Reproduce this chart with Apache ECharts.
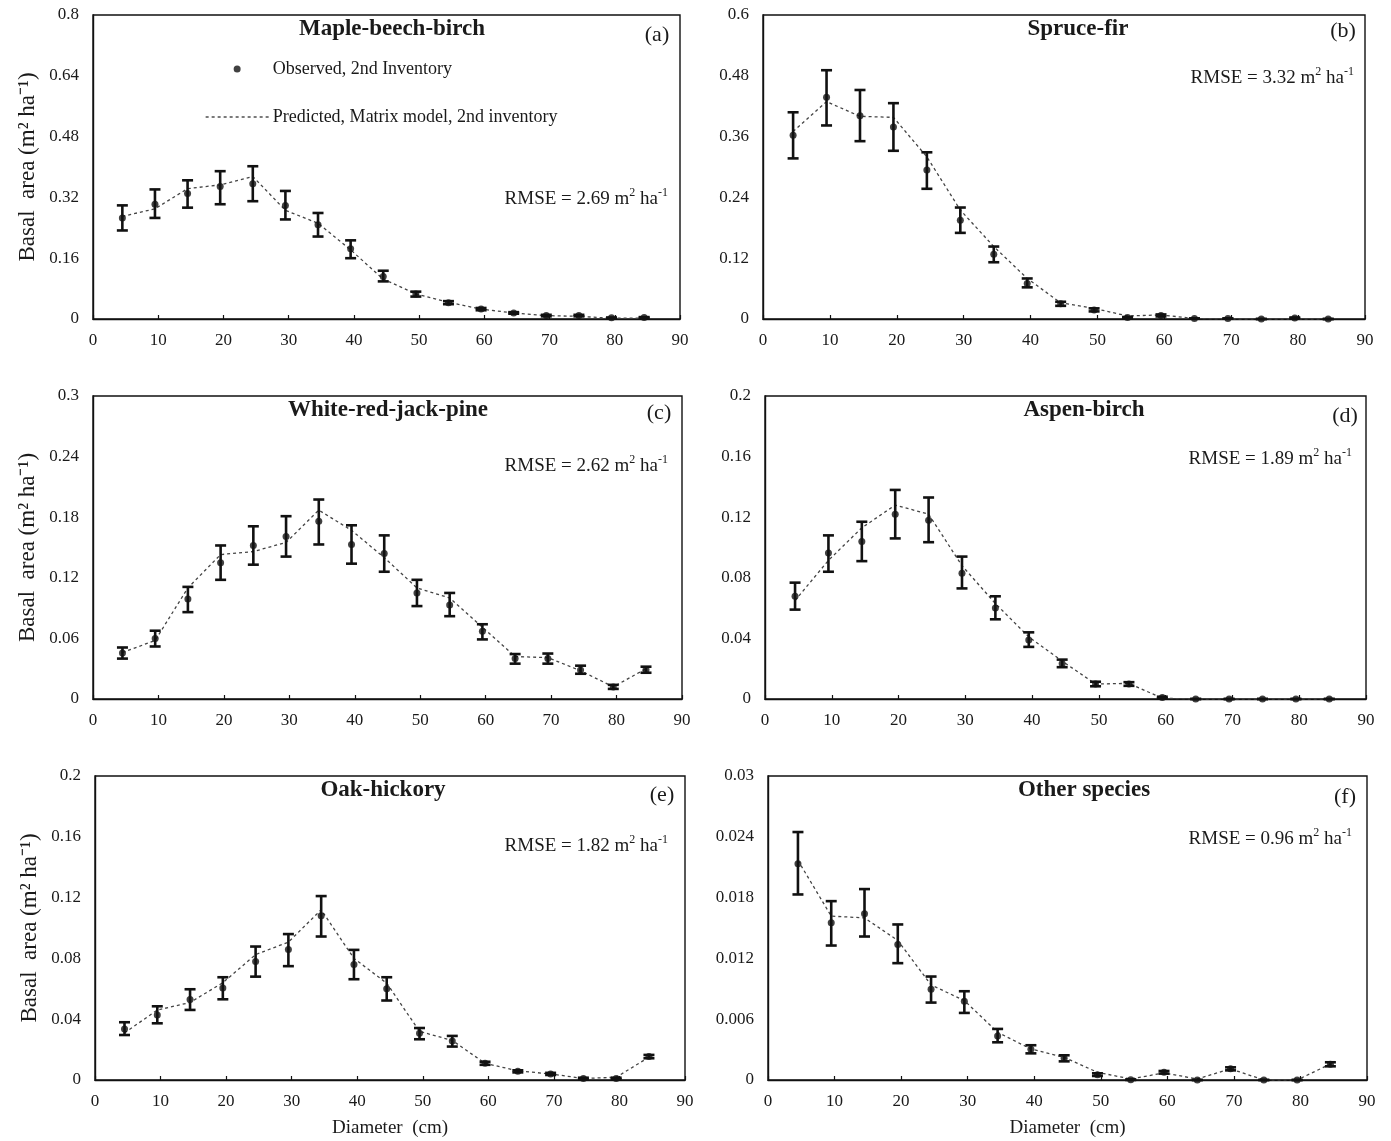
<!DOCTYPE html>
<html>
<head>
<meta charset="utf-8">
<script src="https://cdn.jsdelivr.net/npm/echarts@6/dist/echarts.min.js"></script>
<style>
html,body{margin:0;padding:0;background:#fff;}
#c{width:1391px;height:1141px;}
</style>
</head>
<body>
<div id="c"></div>
<script>
// Diameter classes (cm)
const xClass = [4.5, 9.5, 14.5, 19.5, 24.5, 29.5, 34.5, 39.5, 44.5, 49.5, 54.5, 59.5, 64.5, 69.5, 74.5, 79.5, 84.5];
const xTicks = [0, 10, 20, 30, 40, 50, 60, 70, 80, 90];

// (a) Maple-beech-birch
const obsA  = [0.266, 0.302, 0.330, 0.349, 0.356, 0.299, 0.248, 0.185, 0.112, 0.066, 0.043, 0.026, 0.016, 0.009, 0.009, 0.003, 0.004];
const lowA  = [0.233, 0.266, 0.293, 0.302, 0.310, 0.262, 0.217, 0.160, 0.099, 0.059, 0.039, 0.023, 0.014, 0.007, 0.007, 0.002, 0.003];
const highA = [0.299, 0.341, 0.365, 0.389, 0.402, 0.337, 0.279, 0.207, 0.127, 0.072, 0.047, 0.029, 0.018, 0.011, 0.011, 0.004, 0.005];
const predA = [0.270, 0.290, 0.343, 0.353, 0.375, 0.286, 0.252, 0.182, 0.105, 0.066, 0.044, 0.026, 0.016, 0.009, 0.007, 0.002, 0.002];

// (b) Spruce-fir
const obsB  = [0.3625, 0.4375, 0.401, 0.379, 0.294, 0.195, 0.128, 0.070, 0.030, 0.018, 0.003, 0.007, 0.001, 0.001, 0, 0.002, 0];
const lowB  = [0.317, 0.382, 0.351, 0.332, 0.257, 0.170, 0.112, 0.0625, 0.026, 0.015, 0.002, 0.005, 0.001, 0.001, 0, 0.001, 0];
const highB = [0.408, 0.491, 0.452, 0.426, 0.329, 0.220, 0.143, 0.080, 0.034, 0.021, 0.004, 0.009, 0.001, 0.001, 0, 0.003, 0];
const predB = [0.370, 0.429, 0.400, 0.398, 0.320, 0.215, 0.143, 0.080, 0.032, 0.021, 0.006, 0.008, 0.001, 0, 0, 0, 0];

// (c) White-red-jack-pine
const obsC  = [0.0455, 0.060, 0.099, 0.135, 0.152, 0.161, 0.176, 0.153, 0.144, 0.105, 0.093, 0.067, 0.040, 0.040, 0.0287, 0.012, 0.029];
const lowC  = [0.040, 0.052, 0.086, 0.118, 0.133, 0.141, 0.153, 0.134, 0.126, 0.092, 0.082, 0.059, 0.035, 0.035, 0.025, 0.010, 0.026];
const highC = [0.051, 0.0676, 0.111, 0.152, 0.171, 0.181, 0.1975, 0.172, 0.162, 0.118, 0.105, 0.074, 0.0445, 0.045, 0.033, 0.014, 0.032];
const predC = [0.046, 0.058, 0.110, 0.143, 0.146, 0.155, 0.187, 0.167, 0.140, 0.110, 0.100, 0.071, 0.042, 0.041, 0.028, 0.012, 0.030];

// (d) Aspen-birch
const obsD  = [0.0678, 0.0963, 0.104, 0.122, 0.118, 0.083, 0.060, 0.039, 0.0235, 0.0099, 0.0099, 0.001, 0, 0, 0, 0, 0];
const lowD  = [0.059, 0.084, 0.091, 0.106, 0.1035, 0.073, 0.0526, 0.0344, 0.021, 0.0084, 0.0087, 0.0005, 0, 0, 0, 0, 0];
const highD = [0.0768, 0.108, 0.117, 0.138, 0.133, 0.094, 0.0678, 0.044, 0.026, 0.0114, 0.0111, 0.0015, 0, 0, 0, 0, 0];
const predD = [0.065, 0.0915, 0.113, 0.128, 0.122, 0.088, 0.063, 0.041, 0.025, 0.0099, 0.0103, 0.0005, 0, 0, 0, 0, 0];

// (e) Oak-hickory
const obsE  = [0.0336, 0.0428, 0.0529, 0.0606, 0.078, 0.0858, 0.108, 0.076, 0.060, 0.0307, 0.0257, 0.011, 0.0057, 0.004, 0.001, 0.001, 0.0154];
const lowE  = [0.0296, 0.0373, 0.0461, 0.0531, 0.068, 0.0749, 0.0944, 0.0663, 0.0523, 0.0268, 0.022, 0.010, 0.005, 0.0033, 0.0005, 0.0005, 0.0143];
const highE = [0.038, 0.0485, 0.0597, 0.0676, 0.0878, 0.096, 0.121, 0.0856, 0.0676, 0.0342, 0.029, 0.012, 0.0064, 0.0047, 0.0015, 0.0015, 0.0165];
const predE = [0.031, 0.046, 0.051, 0.064, 0.0825, 0.0907, 0.112, 0.080, 0.0637, 0.032, 0.026, 0.011, 0.006, 0.004, 0.001, 0.0018, 0.015];

// (f) Other species
const obsF  = [0.02134, 0.01551, 0.0164, 0.01337, 0.00896, 0.00777, 0.00435, 0.00303, 0.00214, 0.00053, 0.00003, 0.00076, 0, 0.0011, 0, 0, 0.00155];
const lowF  = [0.01831, 0.01327, 0.01416, 0.01153, 0.00764, 0.00662, 0.00372, 0.00263, 0.00184, 0.00040, 0, 0.00063, 0, 0.00095, 0, 0, 0.00135];
const highF = [0.02447, 0.01765, 0.01884, 0.01535, 0.01021, 0.00876, 0.00504, 0.00343, 0.00244, 0.00066, 0.00006, 0.00089, 0, 0.00125, 0, 0, 0.00175];
const predF = [0.02167, 0.01617, 0.0160, 0.01377, 0.00938, 0.00784, 0.00471, 0.00306, 0.00224, 0.00076, 0.0001, 0.0007, 0.0001, 0.0011, 0, 0, 0.00158];

// Panel meta
const titles = ['Maple-beech-birch', 'Spruce-fir', 'White-red-jack-pine', 'Aspen-birch', 'Oak-hickory', 'Other species'];
const tags = ['(a)', '(b)', '(c)', '(d)', '(e)', '(f)'];
const rmse = ['2.69', '3.32', '2.62', '1.89', '1.82', '0.96'];
const yMax = [0.8, 0.6, 0.3, 0.2, 0.2, 0.03];
const yStep = [0.16, 0.12, 0.06, 0.04, 0.04, 0.006];

const obsAll = [obsA, obsB, obsC, obsD, obsE, obsF];
const lowAll = [lowA, lowB, lowC, lowD, lowE, lowF];
const highAll = [highA, highB, highC, highD, highE, highF];
const predAll = [predA, predB, predC, predD, predE, predF];

const OBS = 'Observed, 2nd Inventory';
const PRED = 'Predicted, Matrix model, 2nd inventory';
const FONT = '"Liberation Serif", "Times New Roman", serif';
const TXT = '#1a1a1a';

// layout
const grids = [
  {left: 93,  top: 15,  width: 587, height: 304},
  {left: 763, top: 15,  width: 602, height: 304},
  {left: 93,  top: 396, width: 589, height: 303},
  {left: 765, top: 396, width: 601, height: 303},
  {left: 95,  top: 776, width: 590, height: 304},
  {left: 768, top: 776, width: 599, height: 304}
];
const titlePos = [[392, 29], [1078, 29], [388, 410], [1084, 410], [383, 790], [1084, 790]];
const tagPos = [[657, 35], [1343, 31], [659, 413], [1345, 416], [662, 795], [1345, 797]];
const rmsePos = [[668, 198], [1354, 77], [668, 465], [1352, 458], [668, 845], [1352, 838]];

function renderErr(params, api) {
  const x = api.value(0), lo = api.value(1), hi = api.value(2);
  const p1 = api.coord([x, hi]);
  const p2 = api.coord([x, lo]);
  const w = 5.5;
  const st = {stroke: '#111', lineWidth: 2.6};
  return {
    type: 'group',
    children: [
      {type: 'line', shape: {x1: p1[0], y1: p1[1], x2: p2[0], y2: p2[1]}, style: st},
      {type: 'line', shape: {x1: p1[0] - w, y1: p1[1], x2: p1[0] + w, y2: p1[1]}, style: st},
      {type: 'line', shape: {x1: p2[0] - w, y1: p2[1], x2: p2[0] + w, y2: p2[1]}, style: st}
    ]
  };
}

const option = {
  backgroundColor: '#fff',
  animation: false,
  textStyle: {fontFamily: FONT, color: TXT},
  grid: grids.map(g => Object.assign({show: true, borderColor: '#111', borderWidth: 1.4, backgroundColor: 'transparent', containLabel: false}, g)),
  xAxis: grids.map((g, i) => ({
    type: 'value', gridIndex: i, min: xTicks[0], max: xTicks[xTicks.length - 1], interval: xTicks[1] - xTicks[0],
    axisLine: {show: true, onZero: false, lineStyle: {color: '#111', width: 1.4}},
    axisTick: {show: true, inside: true, length: 4, lineStyle: {color: '#111', width: 1.2}},
    axisLabel: {fontSize: 17, color: TXT, fontFamily: FONT, margin: 13},
    splitLine: {show: false},
    name: i >= 4 ? 'Diameter  (cm)' : '',
    nameLocation: 'middle', nameGap: 39,
    nameTextStyle: {fontSize: 19, color: TXT, fontFamily: FONT}
  })),
  yAxis: grids.map((g, i) => ({
    type: 'value', gridIndex: i, min: 0, max: yMax[i], interval: yStep[i],
    axisLine: {show: true, lineStyle: {color: '#111', width: 1.4}},
    axisTick: {show: false},
    axisLabel: {fontSize: 17, color: TXT, fontFamily: FONT, margin: 14,
      formatter: v => String(+v.toFixed(4))},
    splitLine: {show: false},
    name: (i % 2 === 0) ? 'Basal  area (m\u00B2 ha\u207B\u00B9)' : '',
    nameLocation: 'middle', nameGap: 54, nameRotate: 90,
    nameTextStyle: {fontSize: 23, color: TXT, fontFamily: FONT}
  })),
  legend: {
    left: 205, top: 60, orient: 'vertical', itemGap: 30, padding: 0,
    itemWidth: 63, itemHeight: 7,
    selectedMode: false,
    textStyle: {fontSize: 18, color: TXT, fontFamily: FONT, padding: [0, 0, 0, -1]},
    data: [
      {name: OBS, icon: 'circle', itemStyle: {color: '#111'}},
      {name: PRED, itemStyle: {opacity: 0}, lineStyle: {type: [3, 3], width: 1.3, color: '#333', opacity: 1}}
    ]
  },
  graphic: [],
  series: []
};

for (let i = 0; i < 6; i++) {
  option.series.push({
    name: PRED, type: 'line', xAxisIndex: i, yAxisIndex: i,
    data: xClass.map((x, k) => [x, predAll[i][k]]),
    showSymbol: false, symbol: 'none', z: 2,
    lineStyle: {type: [3, 3], width: 1.3, color: '#444'},
    itemStyle: {color: '#444'}
  });
  option.series.push({
    name: 'errbar' + i, type: 'custom', xAxisIndex: i, yAxisIndex: i,
    renderItem: renderErr,
    encode: {x: 0, y: [1, 2]},
    data: xClass.map((x, k) => [x, lowAll[i][k], highAll[i][k]]),
    z: 3
  });
  option.series.push({
    name: OBS, type: 'scatter', xAxisIndex: i, yAxisIndex: i,
    data: xClass.map((x, k) => [x, obsAll[i][k]]),
    symbol: 'circle', symbolSize: 7, z: 4,
    itemStyle: {color: '#111'}
  });
  option.graphic.push({
    type: 'text', x: titlePos[i][0], y: titlePos[i][1],
    style: {text: titles[i], fontSize: 23, fontWeight: 'bold', fontFamily: FONT, fill: TXT, align: 'center', verticalAlign: 'middle'}
  });
  option.graphic.push({
    type: 'text', x: tagPos[i][0], y: tagPos[i][1],
    style: {text: tags[i], fontSize: 22, fontFamily: FONT, fill: TXT, align: 'center', verticalAlign: 'middle'}
  });
  option.graphic.push({
    type: 'text', x: rmsePos[i][0], y: rmsePos[i][1],
    style: {
      text: '{n|RMSE = ' + rmse[i] + ' m}{s|2}{n| ha}{s|-1}',
      align: 'right', verticalAlign: 'middle',
      rich: {
        n: {fontSize: 19, fontFamily: FONT, fill: TXT, color: TXT, verticalAlign: 'bottom', lineHeight: 22},
        s: {fontSize: 12, fontFamily: FONT, fill: TXT, color: TXT, verticalAlign: 'top', lineHeight: 22, padding: [0, 0, 10, 0]}
      }
    }
  });
}

const chart = echarts.init(document.getElementById('c'), null, {renderer: 'canvas'});
chart.setOption(option);
</script>
</body>
</html>
